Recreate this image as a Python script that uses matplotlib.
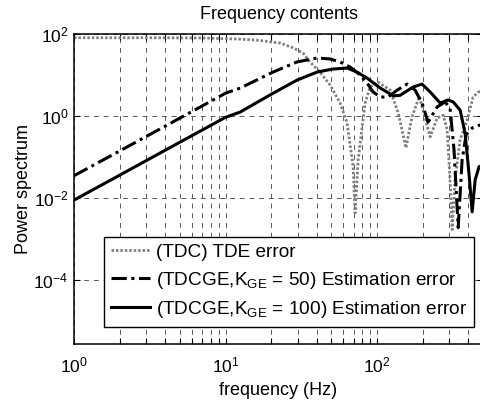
import matplotlib
matplotlib.use('Agg')
import matplotlib.pyplot as plt
from matplotlib.ticker import LogLocator, NullLocator, LogFormatterSciNotation

plt.rcParams['font.family'] = ['Liberation Sans', 'DejaVu Sans']
plt.rcParams['mathtext.fontset'] = 'custom'
plt.rcParams['mathtext.rm'] = 'Liberation Sans'
plt.rcParams['mathtext.it'] = 'Liberation Sans:italic'
plt.rcParams['mathtext.bf'] = 'Liberation Sans:bold'
plt.rcParams['mathtext.default'] = 'regular'

# values (frequency in Hz, power spectrum)
f_tdc = [1, 3, 7, 12.5, 16, 23, 28, 32.5, 36, 42, 49, 57, 63.4, 69.5, 71.6, 75,
         79.6, 83.4, 90, 101, 122, 138, 155, 170, 190, 224, 249, 273, 290,
         303, 313, 327, 353, 393, 430, 464, 500]
p_tdc = [81, 81, 80, 75, 71, 60, 46, 34, 21, 11.8, 5.7, 2.07, 0.68, 0.058,
         0.0043, 0.085, 0.54, 2.07, 5.1, 6.8, 4.3, 1.18, 0.166, 0.95, 3.0, 0.31,
         0.89, 1.05, 0.46, 0.028, 0.0017, 0.028, 0.26, 0.79, 2.9, 3.8, 4.3]

f_k50 = [1, 2, 5, 10, 12.5, 20.6, 29.6, 40.2, 49, 57, 66.3, 77.3, 85.9, 94.2,
         105, 118, 136, 158, 178, 198, 217, 249, 281, 303, 322, 343, 364, 387,
         424, 464, 500]
p_k50 = [0.035, 0.14, 0.89, 3.6, 4.8, 11.8, 20.8, 26, 24.6, 20.8, 15.7, 10,
         6.4, 3.85, 2.9, 2.9, 4.3, 6.0, 4.3, 2.07, 0.71, 1.66, 2.2, 1.57, 0.148,
         0.0019, 0.085, 0.35, 0.51, 0.58, 0.63]

f_k100 = [1, 2, 5, 10, 12.5, 20.6, 29.6, 40.2, 51.2, 63.4, 73.8, 85.9, 105,
          128, 142, 173, 198, 224, 261, 294, 318, 353, 381, 405, 424, 444, 471,
          500]
p_k100 = [0.0089, 0.036, 0.23, 0.93, 1.25, 3.6, 7.5, 11.8, 14, 14.8, 11.8,
          8.4, 4.8, 3.1, 3.2, 5.1, 6.0, 3.85, 2.07, 2.46, 2.2, 1.4, 0.38, 0.036,
          0.0046, 0.028, 0.058, 0.063]

labels = ['(TDC) TDE error',
          '(TDCGE,K$_{GE}$ = 50) Estimation error',
          '(TDCGE,K$_{GE}$ = 100) Estimation error']

fig = plt.figure(figsize=(4.8, 4.0), dpi=100)
ax = fig.add_axes([74 / 480, 56 / 400, 409 / 480, 310 / 400])

ax.plot(f_tdc, p_tdc, color='0.5', lw=2, ls=(0, (0.9, 0.7)), label=labels[0])
ax.plot(f_k50, p_k50, color='black', lw=2.2, ls=(0, (5, 1.5, 1, 1.5)), label=labels[1])
ax.plot(f_k100, p_k100, color='black', lw=2.2, ls='-', label=labels[2])

ax.set_xscale('log')
ax.set_yscale('log')
ax.set_xlim(1, 500)
ax.set_ylim(10 ** -5.56, 100)

ax.xaxis.set_major_locator(LogLocator(base=10))
ax.xaxis.set_minor_locator(LogLocator(base=10, subs=range(2, 10)))
ax.set_yticks([1e-4, 1e-2, 1, 1e2])
ax.yaxis.set_major_formatter(LogFormatterSciNotation())
ax.yaxis.set_minor_locator(NullLocator())

# matlab style dashed grid
ax.grid(True, which='major', axis='both', ls=(0, (5, 5)), color='0.35', lw=0.7)
ax.grid(True, which='minor', axis='x', ls=(0, (5, 5)), color='0.35', lw=0.7)

ax.tick_params(which='both', direction='in', top=True, right=True,
               length=4, width=0.8, labelsize=12.5)
ax.tick_params(axis='x', pad=8)
ax.tick_params(axis='y', pad=4)
for s in ax.spines.values():
    s.set_linewidth(1.1)

ax.set_title('Frequency contents', fontsize=13, pad=11)
ax.set_xlabel('frequency (Hz)', fontsize=13, labelpad=5)
ax.set_ylabel('Power spectrum', fontsize=13, labelpad=1)

leg = ax.legend(loc='upper left', bbox_to_anchor=(0.073, 0.345), borderaxespad=0,
                fontsize=13.7, fancybox=False, framealpha=1, edgecolor='black',
                handlelength=2.1, handletextpad=0.3, borderpad=0.35, labelspacing=0.45)
leg.get_frame().set_linewidth(1.0)

fig.savefig('out.png', dpi=100)
